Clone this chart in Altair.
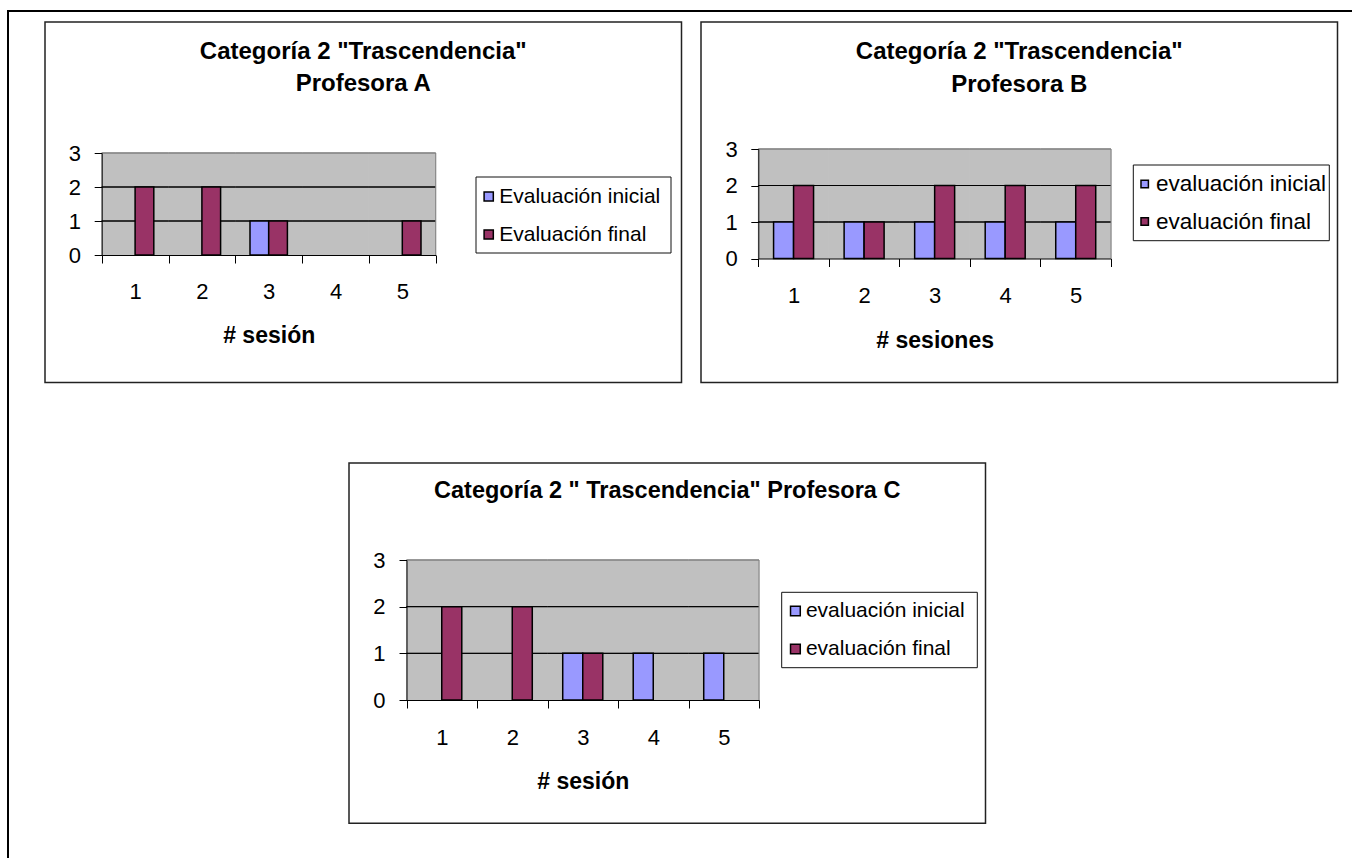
import altair as alt
import pandas as pd

# ---------------- data ----------------
sessions = [1, 2, 3, 4, 5]
y_ticks = [0, 1, 2, 3]
grid_levels = [1, 2]
y_top = 3

a_series = ["Evaluación inicial", "Evaluación final"]
a_inicial = [0, 0, 1, 0, 0]
a_final = [2, 2, 1, 0, 1]
a_title = ['Categoría 2 "Trascendencia"', "Profesora A"]
a_xtitle = "# sesión"

b_series = ["evaluación inicial", "evaluación final"]
b_inicial = [1, 1, 1, 1, 1]
b_final = [2, 1, 2, 2, 2]
b_title = ['Categoría 2 "Trascendencia"', "Profesora B"]
b_xtitle = "# sesiones"

c_series = ["evaluación inicial", "evaluación final"]
c_inicial = [0, 0, 1, 1, 1]
c_final = [2, 2, 1, 0, 0]
c_title = ['Categoría 2 " Trascendencia" Profesora C']
c_xtitle = "# sesión"

colors = ["#9999FF", "#993366"]
FONT = "Liberation Sans"
W, H = 1352, 858

# ---------------- layout (page pixels) ----------------
lay_a = dict(px0=101.7, px1=435.7, py0=153, py1=255,
             box=(45, 22, 681.5, 382.5),
             title_xy=(363.25, 58.8), title_fs=24,
             legbox=(476, 177, 671, 253), label_x=504, sym_cx=488.7, row1_cy=196.5, row_gap=37,
             legfont=21, symsize=85,
             ylabpad=13.7, xlabpad=35, titley=87, bandpad=0.786)
lay_b = dict(px0=758.3, px1=1111, py0=149, py1=258.5,
             box=(701, 22, 1337.5, 382.5),
             title_xy=(1019.25, 59.3), title_fs=24,
             legbox=(1133.3, 165, 1329.3, 240.7), label_x=1152.7, sym_cx=1144.7, row1_cy=184, row_gap=37,
             legfont=22.5, symsize=55,
             ylabpad=13.6, xlabpad=35.5, titley=88.5, bandpad=0.764)
lay_c = dict(px0=406.5, px1=759, py0=560, py1=700,
             box=(349, 463, 985.5, 823.3),
             title_xy=(667.25, 497.5), title_fs=23.5,
             legbox=(781.7, 592.3, 977.3, 667.7), label_x=812.7, sym_cx=795.4, row1_cy=611, row_gap=37,
             legfont=21, symsize=95,
             ylabpad=14, xlabpad=36, titley=88, bandpad=0.76)

one = pd.DataFrame({"k": [0]})


def make_legend(L):
    k = L["legfont"]  # Vega legend entry column = max(symbol, font size)
    lx = L["label_x"] - k
    ly = L["row1_cy"] - k / 2
    symoff = L["sym_cx"] - lx - k / 2
    common = dict(
        title=None, orient="none", legendX=lx, legendY=ly,
        symbolType="square", symbolSize=L["symsize"],
        symbolStrokeColor="black", symbolStrokeWidth=1.5, symbolOpacity=1,
        labelFontSize=L["legfont"], labelOffset=0, labelFont=FONT,
        labelColor="black", labelLimit=400, padding=0, rowPadding=L["row_gap"] - k,
    )
    try:
        return alt.Legend(symbolOffset=symoff, **common)
    except Exception:
        return alt.Legend(symbolOffset=max(0, symoff), **common)


def panel(series, inicial, final, xtitle, L):
    px0, px1, py0, py1 = L["px0"], L["px1"], L["py0"], L["py1"]

    bars_df = pd.DataFrame({
        "sesion": sessions + sessions,
        "serie": [series[0]] * len(sessions) + [series[1]] * len(sessions),
        "valor": inicial + final,
    })
    sess_df = pd.DataFrame({"sesion": sessions})
    grid_df = pd.DataFrame(
        [(s, g) for g in grid_levels for s in sessions], columns=["sesion", "nivel"]
    )
    top_df = pd.DataFrame({"sesion": sessions, "nivel": [y_top] * len(sessions)})

    xscale = alt.Scale(domain=sessions, range=[px0, px1], paddingInner=0, paddingOuter=0)
    xaxis = alt.Axis(orient="bottom", offset=py1 - H, labelAngle=0, tickBand="extent",
                     tickSize=8, labelPadding=L["xlabpad"], labelBaseline="alphabetic",
                     titleY=L["titley"], titleBaseline="alphabetic", grid=False, zindex=1)
    yscale = alt.Scale(domain=[0, y_top], range=[py1, py0], nice=False)
    yaxis = alt.Axis(orient="left", offset=-px0, values=y_ticks, title=None,
                     tickSize=7.5, labelPadding=L["ylabpad"], grid=False, zindex=1)

    def X(**kw):
        return alt.X("sesion:O", title=xtitle, scale=xscale, axis=xaxis, **kw)

    bg = alt.Chart(sess_df).mark_rect(color="#C0C0C0", stroke="#C0C0C0", strokeWidth=1).encode(
        x=X(), y=alt.Y(datum=0, scale=yscale, axis=yaxis), y2=alt.Y2(datum=y_top))

    grid = alt.Chart(grid_df).mark_rect(fillOpacity=0, stroke="#000000", strokeWidth=1).encode(
        x=X(), y=alt.Y("nivel:Q", scale=yscale, axis=yaxis), y2=alt.Y2("nivel:Q"))

    top = alt.Chart(top_df).mark_rect(fillOpacity=0, stroke="#808080", strokeWidth=1).encode(
        x=X(), y=alt.Y("nivel:Q", scale=yscale, axis=yaxis), y2=alt.Y2("nivel:Q"))

    right = alt.Chart(sess_df).transform_filter(
        f"datum.sesion == {sessions[-1]}"
    ).mark_rule(color="#808080", strokeWidth=1).encode(
        x=X(bandPosition=1), y=alt.Y(datum=0, scale=yscale, axis=yaxis), y2=alt.Y2(datum=y_top))

    bars = alt.Chart(bars_df).transform_filter("datum.valor > 0").mark_bar(
        stroke="black", strokeWidth=1.5
    ).encode(
        x=X(),
        xOffset=alt.XOffset("serie:N",
                            scale=alt.Scale(domain=series, paddingInner=0,
                                            paddingOuter=L["bandpad"])),
        y=alt.Y("valor:Q", scale=yscale, axis=yaxis),
        color=alt.Color("serie:N", scale=alt.Scale(domain=series, range=colors),
                        legend=make_legend(L)),
    )
    return alt.layer(bg, grid, top, right, bars)


def decorations(title_lines, L):
    bx0, by0, bx1, by1 = L["box"]
    box = alt.Chart(one).mark_rect(fillOpacity=0, stroke="#222222", strokeWidth=1.5).encode(
        x=alt.value(bx0), x2=alt.value(bx1), y=alt.value(by0), y2=alt.value(by1))
    gx0, gy0, gx1, gy1 = L["legbox"]
    legbox = alt.Chart(one).mark_rect(fill="white", stroke="#111111", strokeWidth=1).encode(
        x=alt.value(gx0), x2=alt.value(gx1), y=alt.value(gy0), y2=alt.value(gy1))
    tx, ty = L["title_xy"]
    title = alt.Chart(one).mark_text(
        font=FONT, fontSize=L["title_fs"], fontWeight="bold", align="center",
        baseline="alphabetic", lineHeight=32.5, color="black"
    ).encode(x=alt.value(tx), y=alt.value(ty), text=alt.value(title_lines))
    return [box, legbox, title]


frame_top = alt.Chart(one).mark_rule(color="black", strokeWidth=2).encode(
    x=alt.value(7), x2=alt.value(W), y=alt.value(11))
frame_left = alt.Chart(one).mark_rule(color="black", strokeWidth=2).encode(
    x=alt.value(8), y=alt.value(10), y2=alt.value(H))

pa = panel(a_series, a_inicial, a_final, a_xtitle, lay_a)
pb = panel(b_series, b_inicial, b_final, b_xtitle, lay_b)
pc = panel(c_series, c_inicial, c_final, c_xtitle, lay_c)

layers = [frame_top, frame_left]
layers += decorations(a_title, lay_a)
layers += decorations(b_title, lay_b)
layers += decorations(c_title, lay_c)
layers += [pa, pb, pc]

chart = alt.layer(*layers).resolve_scale(
    x="independent", y="independent", xOffset="independent", color="independent"
).resolve_axis(
    x="independent", y="independent"
).resolve_legend(
    color="independent"
).properties(
    width=W, height=H, padding=0, autosize=alt.AutoSizeParams(type="none")
).configure_view(
    fill="white", stroke="transparent"
).configure_axis(
    labelFont=FONT, labelFontSize=22, labelColor="black",
    titleFont=FONT, titleFontSize=23, titleFontWeight="bold", titleColor="black",
    domainColor="black", tickColor="black", domainWidth=1, tickWidth=1,
)

chart.save("out.html", embed_options={"renderer": "svg", "actions": False})
